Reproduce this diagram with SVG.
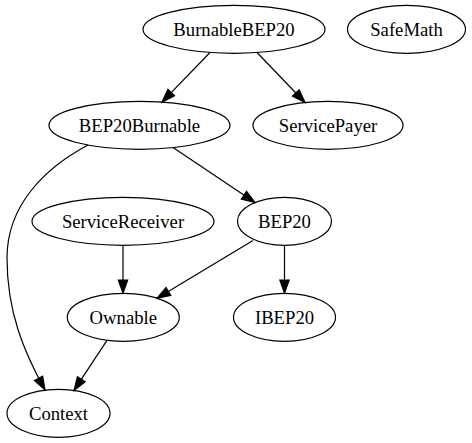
<svg xmlns="http://www.w3.org/2000/svg" width="472" height="443" viewBox="0 0 472 443">
<style>
.n ellipse{fill:none;stroke:#000;stroke-width:1.2}
.n text{font-family:"Liberation Serif","Times New Roman",serif;font-size:18.67px;text-anchor:middle;fill:#000}
.e path{fill:none;stroke:#000;stroke-width:1.2;marker-end:url(#ah)}
</style>
<defs>
<marker id="ah" markerUnits="userSpaceOnUse" markerWidth="16" markerHeight="12" refX="13.3" refY="4.67" orient="auto" overflow="visible">
<polygon points="0,0 13.3,4.67 0,9.33" fill="#000" stroke="#000" stroke-width="1.2"/>
</marker>
</defs>
<rect width="472" height="443" fill="#fff"/>
<g id="connectors" class="e">
<path d="M210,52.5L162,102.1"/>
<path d="M257,52.5L305,102.5"/>
<path d="M173,147.6L255,202.6"/>
<path d="M88,145C45,168 7,205 7,258C7,312 24,352 45,390"/>
<path d="M123,245.3L123,293.3"/>
<path d="M253,240.5L157,298.3"/>
<path d="M284.5,245.3L284.5,293.3"/>
<path d="M107,340.3L74,390.4"/>
</g>
<g id="BurnableBEP20" class="n"><ellipse cx="234" cy="29.3" rx="91" ry="24"/><text x="234" y="35.5">BurnableBEP20</text></g>
<g id="SafeMath" class="n"><ellipse cx="406.5" cy="29.3" rx="59" ry="24"/><text x="406.5" y="35.5">SafeMath</text></g>
<g id="BEP20Burnable" class="n"><ellipse cx="139.5" cy="125.3" rx="90.5" ry="24"/><text x="139.5" y="131.5">BEP20Burnable</text></g>
<g id="ServicePayer" class="n"><ellipse cx="328" cy="125.3" rx="75" ry="24"/><text x="328" y="131.5">ServicePayer</text></g>
<g id="ServiceReceiver" class="n"><ellipse cx="123" cy="221.3" rx="91" ry="24"/><text x="123" y="227.5">ServiceReceiver</text></g>
<g id="BEP20" class="n"><ellipse cx="284.5" cy="221.3" rx="47" ry="24"/><text x="284.5" y="227.5">BEP20</text></g>
<g id="Ownable" class="n"><ellipse cx="123.3" cy="317.3" rx="56" ry="24"/><text x="123.3" y="323.5">Ownable</text></g>
<g id="IBEP20" class="n"><ellipse cx="284.5" cy="317.3" rx="51" ry="24"/><text x="284.5" y="323.5">IBEP20</text></g>
<g id="Context" class="n"><ellipse cx="58.5" cy="413.3" rx="51.5" ry="24"/><text x="58.5" y="419.5">Context</text></g>
</svg>
